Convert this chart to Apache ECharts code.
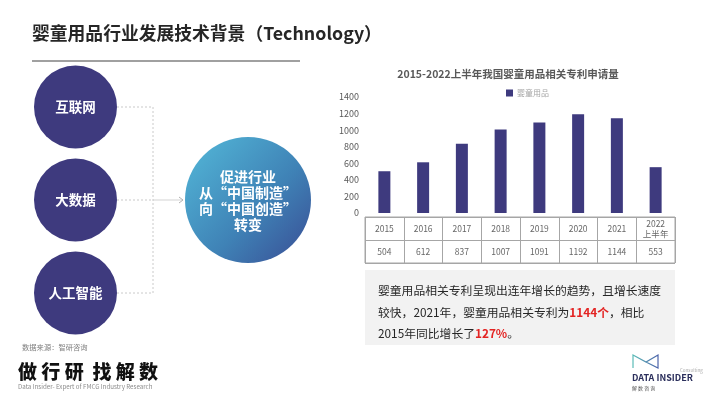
<!DOCTYPE html>
<html>
<head>
<meta charset="utf-8">
<script src="https://cdn.jsdelivr.net/npm/echarts@6/dist/echarts.min.js"></script>
<style>
  html, body { margin: 0; padding: 0; background: #fff; }
  #chart { width: 710px; height: 399px; }
</style>
</head>
<body>
<div id="chart"></div>
<script>
// data
const years = ['2015', '2016', '2017', '2018', '2019', '2020', '2021', '2022\n上半年']
const patents = [504, 612, 837, 1007, 1091, 1192, 1144, 553]
const yTicks = [0, 200, 400, 600, 800, 1000, 1200, 1400]
const tableRows = ['year', 'value']
const drivers = ['互联网', '大数据', '人工智能']

const FONT = '"Noto Sans CJK SC", "Noto Sans", sans-serif'
const PURPLE = '#3e3a7e'

const chart = echarts.init(document.getElementById('chart'))

// table cells: year row + value row, placed on the table grid's own category axes
const tableData = []
years.forEach((y, i) => {
    tableData.push({ name: y, value: [i, 0] })
    tableData.push({ name: String(patents[i]), value: [i, 1] })
})

const v2021 = patents[6]
const growth = Math.round((v2021 / patents[0] - 1) * 100)

// left diagram circles
const circleY = [107, 200, 293]
const leftGraphics = []
drivers.forEach((d, i) => {
    leftGraphics.push({
        type: 'circle',
        shape: { cx: 75.5, cy: circleY[i], r: 41.5 },
        style: { fill: PURPLE }
    })
    leftGraphics.push({
        type: 'text',
        x: 75.5, y: circleY[i],
        style: {
            text: d, fill: '#fff', font: 'bold 13.5px ' + FONT,
            textAlign: 'center', textVerticalAlign: 'middle'
        }
    })
    leftGraphics.push({
        type: 'polyline',
        shape: { points: [[117, circleY[i]], [153, circleY[i]]] },
        style: { stroke: '#bcbcbc', lineWidth: 0.8, lineDash: [2, 2] }
    })
})

// summary text lines (red parts are rich segments)
const noteLines = [
    '婴童用品相关专利呈现出连年增长的趋势，且增长速度',
    '较快，2021年，婴童用品相关专利为{r|' + v2021 + '个}，相比',
    '2015年同比增长了{r|' + growth + '%}。'
]

chart.setOption({
    animation: false,
    textStyle: { fontFamily: FONT },
    legend: {
        data: ['婴童用品'],
        left: 501,
        top: 84,
        icon: 'rect',
        itemWidth: 7,
        itemHeight: 7,
        itemGap: 4,
        textStyle: { fontSize: 8, color: '#a6a6a6', padding: [0, 0, 0, -1] }
    },
    grid: [
        { left: 365, right: 35, top: 97, bottom: 186 },
        { left: 365, right: 35, top: 217, bottom: 136, show: true, borderColor: '#a6a6a6', borderWidth: 1 }
    ],
    xAxis: [
        {
            type: 'category', gridIndex: 0, data: years,
            axisLine: { show: false }, axisTick: { show: false }, axisLabel: { show: false }
        },
        {
            type: 'category', gridIndex: 1, data: years,
            axisLine: { show: false }, axisTick: { show: false }, axisLabel: { show: false },
            splitLine: { show: true, interval: 0, lineStyle: { color: '#a6a6a6', width: 1 } }
        }
    ],
    yAxis: [
        {
            type: 'value', gridIndex: 0, min: yTicks[0], max: yTicks[yTicks.length - 1], interval: 200,
            axisLine: { show: false }, axisTick: { show: false }, splitLine: { show: false },
            axisLabel: { fontSize: 9, color: '#595959', margin: 6, formatter: v => String(v) }
        },
        {
            type: 'category', gridIndex: 1, data: tableRows, inverse: true,
            axisLine: { show: false }, axisTick: { show: false }, axisLabel: { show: false },
            splitLine: { show: true, interval: 0, lineStyle: { color: '#a6a6a6', width: 1 } }
        }
    ],
    series: [
        {
            name: '婴童用品',
            type: 'bar',
            data: patents,
            barWidth: 12,
            itemStyle: { color: PURPLE }
        },
        {
            type: 'scatter',
            xAxisIndex: 1,
            yAxisIndex: 1,
            data: tableData,
            symbolSize: 1,
            itemStyle: { color: 'rgba(0,0,0,0)' },
            silent: true,
            label: {
                show: true,
                position: 'inside',
                formatter: '{b}',
                fontSize: 8.5,
                lineHeight: 10,
                color: '#404040'
            }
        }
    ],
    graphic: [
        // page title + rule
        {
            type: 'text', x: 32, y: 33,
            style: {
                text: '婴童用品行业发展技术背景（Technology）',
                font: 'bold 17.8px ' + FONT, fill: '#262626', textVerticalAlign: 'middle'
            }
        },
        {
            type: 'line', shape: { x1: 32, y1: 61, x2: 300, y2: 61 },
            style: { stroke: '#808080', lineWidth: 1.5 }
        },
        // chart title
        {
            type: 'text', x: 508, y: 74,
            style: {
                text: '2015-2022上半年我国婴童用品相关专利申请量',
                font: 'bold 10.5px ' + FONT, fill: '#595959',
                textAlign: 'center', textVerticalAlign: 'middle'
            }
        },
        ...leftGraphics,
        {
            type: 'polyline',
            shape: { points: [[153, circleY[0]], [153, circleY[2]]] },
            style: { stroke: '#bcbcbc', lineWidth: 0.8, lineDash: [2, 2] }
        },
        {
            type: 'polyline',
            shape: { points: [[153, 200], [183, 200]] },
            style: { stroke: '#c8c8c8', lineWidth: 0.8 }
        },
        {
            type: 'polyline',
            shape: { points: [[179, 197], [183, 200], [179, 203]] },
            style: { stroke: '#b0b0b0', lineWidth: 1, fill: null }
        },
        // big gradient circle
        {
            type: 'circle',
            shape: { cx: 248, cy: 200, r: 63 },
            style: {
                fill: new echarts.graphic.LinearGradient(0.1, 0.2, 0.9, 0.95, [
                    { offset: 0, color: '#4eabd0' },
                    { offset: 0.55, color: '#3f82b6' },
                    { offset: 1, color: '#3a569a' }
                ])
            }
        },
        {
            type: 'text', x: 248, y: 201,
            style: {
                text: '促进行业\n从“中国制造”\n向“中国创造”\n转变',
                font: 'bold 14px ' + FONT, fill: '#fff', lineHeight: 16,
                textAlign: 'center', textVerticalAlign: 'middle'
            }
        },
        // summary box
        {
            type: 'rect', shape: { x: 365, y: 270, width: 310, height: 75 },
            style: { fill: '#f2f2f2' }
        },
        ...noteLines.map((t, i) => ({
            type: 'text', x: 378, y: 291 + i * 21.5,
            style: {
                text: t,
                font: '11.8px ' + FONT, fill: '#262626', textVerticalAlign: 'middle',
                rich: { r: { font: 'bold 11.8px ' + FONT, fill: '#e32322' } }
            }
        })),
        // source + slogan
        {
            type: 'text', x: 22, y: 347,
            style: { text: '数据来源：智研咨询', font: '7.3px ' + FONT, fill: '#7f7f7f', textVerticalAlign: 'middle' }
        },
        {
            type: 'text', x: 18, y: 372,
            style: { text: '做 行 研  找 解 数', font: '900 19px ' + FONT, fill: '#111', textVerticalAlign: 'middle' }
        },
        {
            type: 'text', x: 18, y: 387,
            style: { text: 'Data Insider- Expert of FMCG Industry Research', font: '6.2px ' + FONT, fill: '#8c8c8c', textVerticalAlign: 'middle' }
        },
        // logo
        {
            type: 'polyline',
            shape: { points: [[633, 368], [633, 355], [646, 362], [658, 355], [658, 368], [646, 362]] },
            style: {
                stroke: new echarts.graphic.LinearGradient(0, 0, 1, 0, [
                    { offset: 0, color: '#5cc4b8' },
                    { offset: 1, color: '#4a5aa8' }
                ]),
                lineWidth: 1.2, fill: null
            }
        },
        {
            type: 'text', x: 680, y: 370,
            style: { text: 'Consulting', font: '4.5px ' + FONT, fill: '#aaa', textVerticalAlign: 'middle' }
        },
        {
            type: 'text', x: 632, y: 378,
            style: { text: 'DATA INSIDER', font: 'bold 9px ' + FONT, fill: '#2b2f5c', textVerticalAlign: 'middle' }
        },
        {
            type: 'text', x: 632, y: 388,
            style: { text: '解 数 咨 询', font: '5px ' + FONT, fill: '#555', textVerticalAlign: 'middle' }
        }
    ]
})
</script>
</body>
</html>
